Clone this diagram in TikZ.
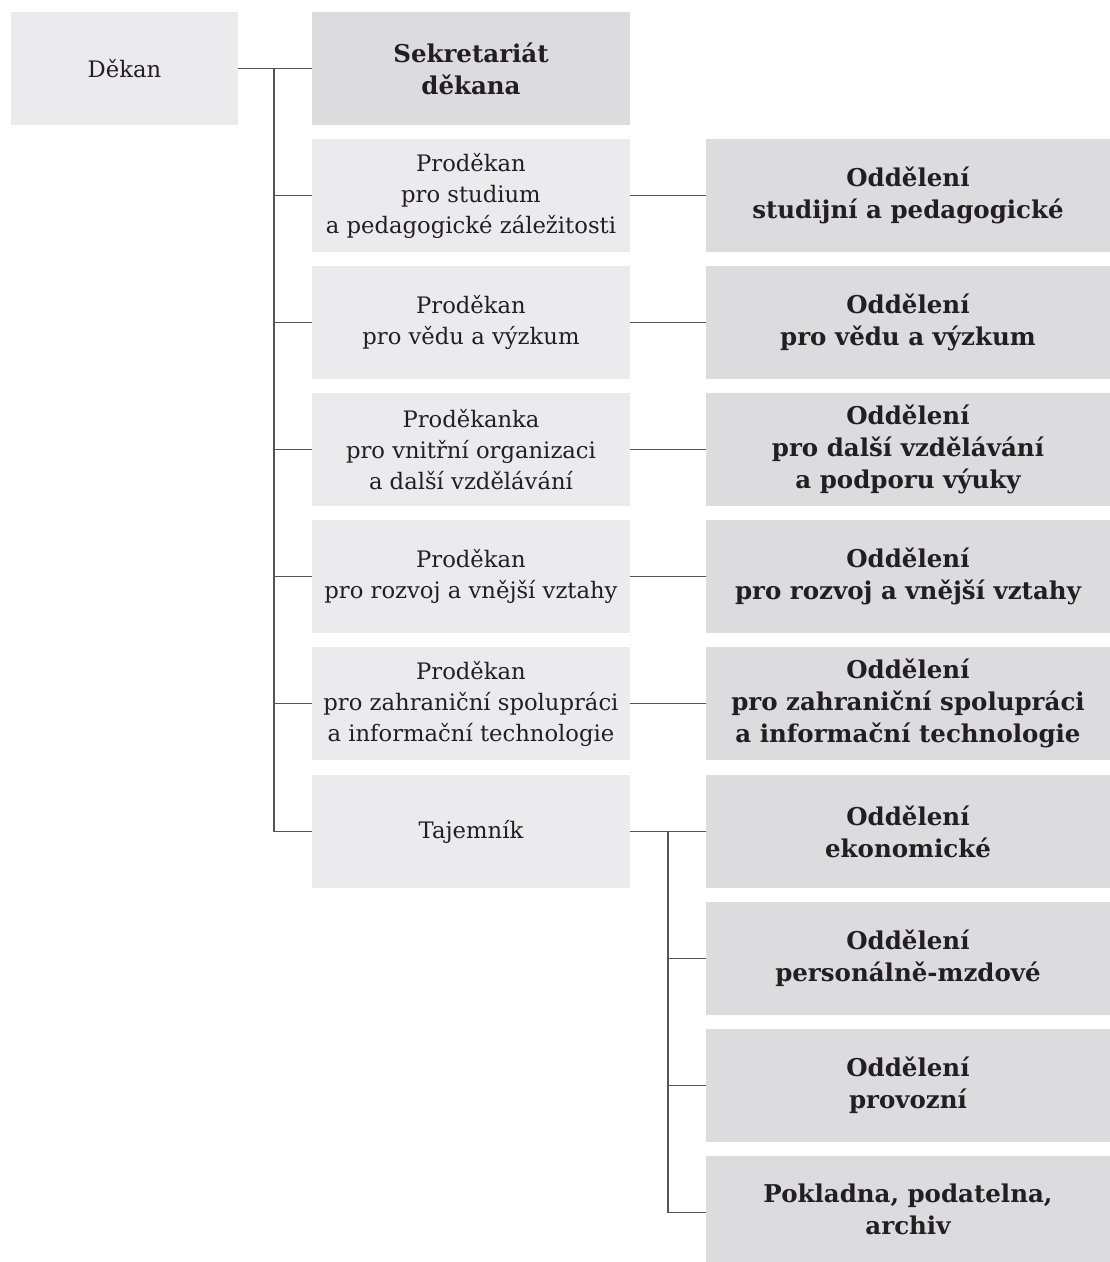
\documentclass[tikz,border=0pt]{standalone}
\usepackage{fontspec}
\setmainfont{DejaVu Serif}
\definecolor{boxlight}{HTML}{EBEBED}
\definecolor{boxdark}{HTML}{DCDCDE}
\definecolor{linecol}{HTML}{555555}
\definecolor{txt}{HTML}{231F20}
\begin{document}
\begin{tikzpicture}[x=1pt,y=-1pt,
  base/.style={inner sep=0pt, align=center, text=txt, minimum height=113pt},
  lbox/.style={base, fill=boxlight, font=\fontsize{22.7}{31}\selectfont},
  dbox/.style={base, fill=boxdark, font=\fontsize{24.5}{32}\selectfont\bfseries},
  conn/.style={draw=linecol, line width=1.4pt}
]
\fill[white] (0,0) rectangle (1110,1262);
\useasboundingbox (0,0) rectangle (1110,1262);

\node[lbox, minimum width=227pt] (dekan) at (124.5,68.5) {Děkan};
\node[dbox, minimum width=318pt] (sek) at (471,68.5) {Sekretariát\\děkana};

\node[lbox, minimum width=318pt] (p1) at (471,195.5) {Proděkan\\pro studium\\a pedagogické záležitosti};
\node[lbox, minimum width=318pt] (p2) at (471,322.5) {Proděkan\\pro vědu a výzkum};
\node[lbox, minimum width=318pt] (p3) at (471,449.5) {Proděkanka\\pro vnitřní organizaci\\a další vzdělávání};
\node[lbox, minimum width=318pt] (p4) at (471,576.5) {Proděkan\\pro rozvoj a vnější vztahy};
\node[lbox, minimum width=318pt] (p5) at (471,703.5) {Proděkan\\pro zahraniční spolupráci\\a informační technologie};
\node[lbox, minimum width=318pt] (taj) at (471,831.5) {Tajemník};

\node[dbox, minimum width=404pt] (o1) at (908,195.5) {Oddělení\\studijní a pedagogické};
\node[dbox, minimum width=404pt] (o2) at (908,322.5) {Oddělení\\pro vědu a výzkum};
\node[dbox, minimum width=404pt] (o3) at (908,449.5) {Oddělení\\pro další vzdělávání\\a podporu výuky};
\node[dbox, minimum width=404pt] (o4) at (908,576.5) {Oddělení\\pro rozvoj a vnější vztahy};
\node[dbox, minimum width=404pt] (o5) at (908,703.5) {Oddělení\\pro zahraniční spolupráci\\a informační technologie};
\node[dbox, minimum width=404pt] (e1) at (908,831.5) {Oddělení\\ekonomické};
\node[dbox, minimum width=404pt] (e2) at (908,958.5) {Oddělení\\personálně-mzdové};
\node[dbox, minimum width=404pt] (e3) at (908,1085.5) {Oddělení\\provozní};
\node[dbox, minimum width=404pt, minimum height=106pt] (e4) at (908,1209) {Pokladna, podatelna,\\archiv};

% spine from dean
\coordinate (s1) at (274,68.5);
\coordinate (s2) at (274,831.5);
\draw[conn] (dekan.east) -- (sek.west);
\draw[conn] (s1) -- (s2);
\foreach \n in {p1,p2,p3,p4,p5,taj} {
  \draw[conn] (s1 |- \n.west) -- (\n.west);
}
\foreach \a/\b in {p1/o1,p2/o2,p3/o3,p4/o4,p5/o5,taj/e1} {
  \draw[conn] (\a.east) -- (\b.west);
}
% spine from tajemnik
\coordinate (t1) at (668,831.5);
\coordinate (t2) at (668,1212.5);
\draw[conn] (t1) -- (t2);
\foreach \n in {e2,e3} {
  \draw[conn] (t1 |- \n.west) -- (\n.west);
}
\draw[conn] (t2) -- (e4.west |- t2);
\end{tikzpicture}
\end{document}
